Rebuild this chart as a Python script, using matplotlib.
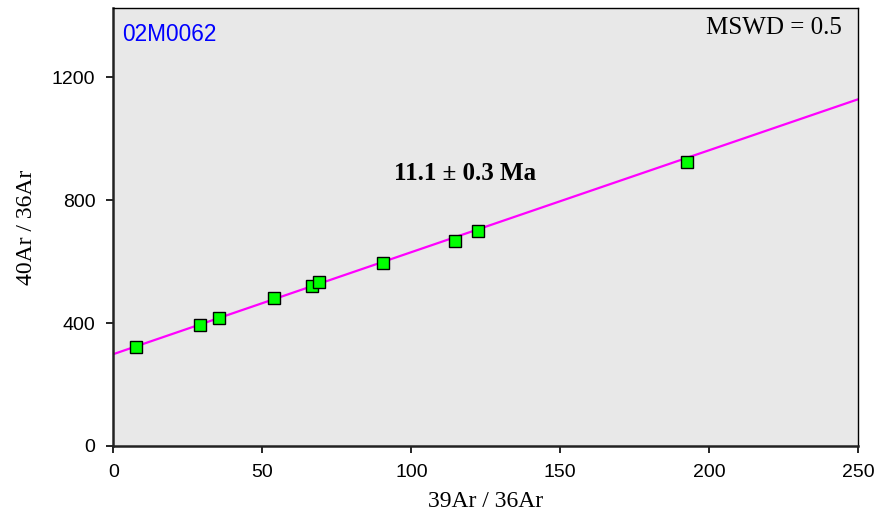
import matplotlib
matplotlib.use("Agg")
import matplotlib.pyplot as plt
import numpy as np

# isochron data
ratio_39_36 = [7.5, 29.0, 35.5, 54.0, 66.5, 69.0, 90.5, 114.8, 122.5, 192.5]
ratio_40_36 = [321, 395, 415, 481, 520, 533, 595, 667, 699, 923]
fit_intercept = 299
fit_slope = 3.316
fit_x = [0, 250]

x_ticks = [0, 50, 100, 150, 200, 250]
y_ticks = [0, 400, 800, 1200]

sample_name = "02M0062"
mswd_label = "MSWD = 0.5"
age_label = "11.1 \u00b1 0.3 Ma"

serif = ["Liberation Serif", "DejaVu Serif"]
sans = ["Liberation Sans", "DejaVu Sans"]

fig = plt.figure(figsize=(8.77, 5.29), dpi=100)
ax = fig.add_axes([0.1294, 0.1569, 0.849, 0.828])
ax.set_facecolor("#e8e8e8")

fx = np.array(fit_x)
ax.plot(fx, fit_intercept + fit_slope * fx, color="#ff00ff", lw=1.6, zorder=2)
ax.plot(ratio_39_36, ratio_40_36, ls="none", marker="s", ms=8.5,
        mfc="#00ff00", mec="black", mew=1.0, zorder=3)

ax.set_xlim(0, 250)
ax.set_ylim(0, 1425)
ax.set_xticks(x_ticks)
ax.set_yticks(y_ticks)
ax.tick_params(direction="out", length=5, width=1.2, pad=8, labelsize=14)
for lab in ax.get_xticklabels() + ax.get_yticklabels():
    lab.set_family(sans)

for s in ["left", "bottom"]:
    ax.spines[s].set_linewidth(1.8)
    ax.spines[s].set_color("#222222")
for s in ["top", "right"]:
    ax.spines[s].set_linewidth(1.0)

ax.set_xlabel("39Ar / 36Ar", family=serif, fontsize=17, labelpad=7)
ax.set_ylabel("40Ar / 36Ar", family=serif, fontsize=17, labelpad=11)

ax.text(0.012, 0.94, sample_name, transform=ax.transAxes, color="#0000ff",
        fontsize=16.3, family=sans, va="center")
ax.text(0.978, 0.955, mswd_label, transform=ax.transAxes, fontsize=18,
        family=serif, ha="right", va="center")
ax.text(118, 888, age_label, fontsize=18, family=serif, weight="bold",
        ha="center", va="center")

fig.savefig("out.png", dpi=100)
